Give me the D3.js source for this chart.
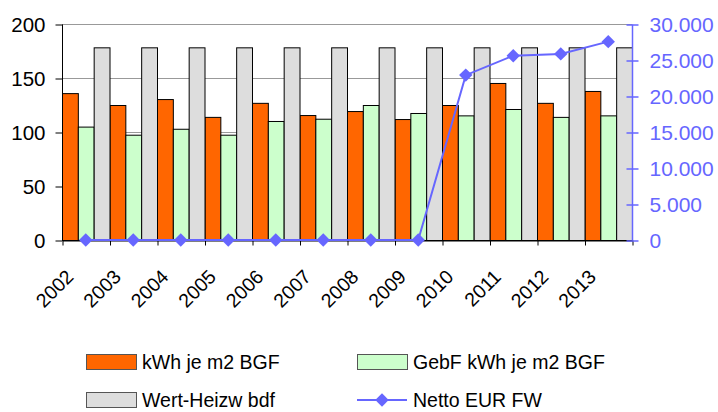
<!DOCTYPE html>
<html>
<head>
	<meta charset="utf-8">
	<title>kWh je m2 BGF</title>
	<script type="text/javascript" src="https://cdn.jsdelivr.net/npm/d3@7"></script>
	<style>
		body {
			margin: 0;
			background: #fff;
			font-family: "Liberation Sans", Arial, Helvetica, sans-serif;
		}
	</style>
</head>
<body>
	<div id="chart"></div>
	<script>

		// data

		const years  = ["2002", "2003", "2004", "2005", "2006", "2007", "2008", "2009", "2010", "2011", "2012", "2013"];
		const kwh    = [136, 125, 130.5, 114, 127, 115.7, 119.4, 112, 125, 145.4, 127, 138];
		const gebf   = [105, 97.5, 103, 97.5, 110.2, 112.3, 125, 117.6, 115.4, 121.3, 114, 115.4];
		const wert   = [178.4, 178.4, 178.4, 178.4, 178.4, 178.4, 178.4, 178.4, 178.4, 178.4, 178.4, 178.4];
		const netto  = [0, 0, 0, 0, 0, 0, 0, 0, 22900, 25600, 25850, 27550];
		const leftTicks  = [0, 50, 100, 150, 200];
		const rightTicks = [0, 5000, 10000, 15000, 20000, 25000, 30000];

		const barSeries = [
			{ name: "kWh je m2 BGF",      values: kwh,  color: "#ff6600" },
			{ name: "GebF kWh je m2 BGF", values: gebf, color: "#ccffcc" },
			{ name: "Wert-Heizw bdf",     values: wert, color: "#dddddd" },
		];
		const lineName  = "Netto EUR FW";
		const lineColor = "#6666ff";

		// layout

		const width = 718, height = 412;
		const plotLeft = 62, plotRight = 632, plotTop = 24, plotBottom = 240;

		const svg = d3.select("#chart").append("svg")
			.attr("width", width)
			.attr("height", height)
			.attr("viewBox", [0, 0, width, height]);

		const x = d3.scaleBand(years, [plotLeft, plotRight]).padding(0);
		const xs = d3.scaleBand(barSeries.map(d => d.name), [0, x.bandwidth()]).padding(0);
		const y = d3.scaleLinear([0, 200], [plotBottom, plotTop]);
		const y2 = d3.scaleLinear([0, 30000], [plotBottom, plotTop]);
		const de = d3.formatLocale({ decimal: ",", thousands: ".", grouping: [3], currency: ["", " €"] });
		const fmt = de.format(",");

		// gridlines
		svg.append("g")
			.selectAll("line")
			.data(leftTicks.filter(d => d > 0))
			.join("line")
			.attr("x1", plotLeft).attr("x2", plotRight)
			.attr("y1", d => y(d) + 0.5).attr("y2", d => y(d) + 0.5)
			.attr("stroke", "#999");

		// bars
		barSeries.forEach(s => {
			svg.append("g")
				.selectAll("rect")
				.data(years)
				.join("rect")
				.attr("x", (d, i) => x(d) + xs(s.name) + 0.5)
				.attr("y", (d, i) => y(s.values[i]) + 0.5)
				.attr("width", xs.bandwidth())
				.attr("height", (d, i) => y(0) - y(s.values[i]))
				.attr("fill", s.color)
				.attr("stroke", "#000")
				.attr("stroke-width", 1);
		});

		// left axis
		svg.append("g")
			.attr("transform", `translate(${plotLeft + 0.5},0.5)`)
			.call(d3.axisLeft(y).tickValues(leftTicks).tickSize(7).tickPadding(10))
			.call(g => g.select(".domain").attr("stroke", "#000").attr("d", `M0,${plotTop}V${plotBottom}`))
			.call(g => g.selectAll("text").attr("font-size", 20.5).attr("font-family", "Liberation Sans, Arial, sans-serif").attr("fill", "#000"));

		// bottom axis
		const xi = d3.scaleLinear([0, years.length], [plotLeft, plotRight]);
		svg.append("g")
			.attr("transform", `translate(0.5,${plotBottom + 0.5})`)
			.call(d3.axisBottom(xi).tickValues(d3.range(years.length + 1)).tickFormat("").tickSize(5).tickSizeOuter(0))
			.call(g => g.select(".domain").attr("stroke", "#000"));

		svg.append("g")
			.selectAll("text")
			.data(years)
			.join("text")
			.attr("transform", d => `translate(${x(d) + x.bandwidth() / 2 - 11},${plotBottom + 38}) rotate(-45)`)
			.attr("text-anchor", "end")
			.attr("font-size", 19.5)
			.attr("fill", "#000")
			.text(d => d);

		// right axis
		svg.append("g")
			.attr("transform", `translate(${plotRight + 0.5},0.5)`)
			.call(d3.axisRight(y2).tickValues(rightTicks).tickSize(6).tickPadding(11).tickFormat(fmt))
			.call(g => g.select(".domain").attr("stroke", lineColor).attr("stroke-width", 1.5).attr("d", `M0,${plotTop}V${plotBottom}`))
			.call(g => g.selectAll(".tick line").attr("stroke", lineColor).attr("stroke-width", 1.5).attr("x1", -6))
			.call(g => g.selectAll("text").attr("font-size", 21).attr("font-family", "Liberation Sans, Arial, sans-serif").attr("fill", lineColor));

		// line
		const cx = d => x(d) + x.bandwidth() / 2;
		svg.append("path")
			.datum(years)
			.attr("fill", "none")
			.attr("stroke", lineColor)
			.attr("stroke-width", 2)
			.attr("d", d3.line((d, i) => cx(d), (d, i) => y2(netto[i])));

		const diamond = d3.symbol(d3.symbolSquare, 90);
		svg.append("g")
			.selectAll("path")
			.data(years)
			.join("path")
			.attr("transform", (d, i) => `translate(${cx(d)},${y2(netto[i])}) rotate(45)`)
			.attr("d", diamond)
			.attr("fill", lineColor);

		// legend
		const legend = [
			{ name: barSeries[0].name, color: barSeries[0].color, x: 86,  y: 354 },
			{ name: barSeries[1].name, color: barSeries[1].color, x: 357, y: 354 },
			{ name: barSeries[2].name, color: barSeries[2].color, x: 86,  y: 392 },
			{ name: lineName, line: true, x: 357, y: 392 },
		];
		const lg = svg.append("g").selectAll("g").data(legend).join("g")
			.attr("transform", d => `translate(${d.x},${d.y})`);

		lg.filter(d => !d.line).append("rect")
			.attr("x", 0.5).attr("y", 0.5)
			.attr("width", 50).attr("height", 15)
			.attr("fill", d => d.color)
			.attr("stroke", "#555");

		const ll = lg.filter(d => d.line);
		ll.append("line")
			.attr("x1", 0).attr("x2", 50)
			.attr("y1", 8).attr("y2", 8)
			.attr("stroke", lineColor).attr("stroke-width", 2);
		ll.append("path")
			.attr("transform", "translate(25,8) rotate(45)")
			.attr("d", diamond)
			.attr("fill", lineColor);

		lg.append("text")
			.attr("x", 56)
			.attr("y", 15)
			.attr("font-size", 19.5)
			.attr("fill", "#000")
			.text(d => d.name);

	</script>
</body>
</html>
